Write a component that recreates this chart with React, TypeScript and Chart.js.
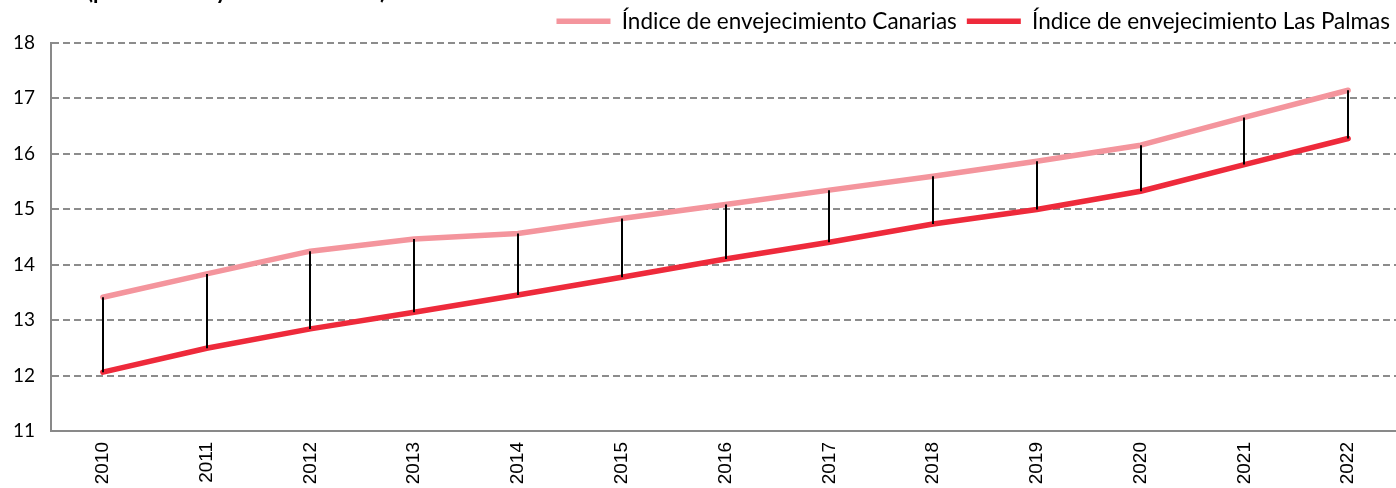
import { useEffect, useRef } from "react";
import { Chart, registerables } from "chart.js";

Chart.register(...registerables);

const years = ["2010", "2011", "2012", "2013", "2014", "2015", "2016", "2017", "2018", "2019", "2020", "2021", "2022"];
const canarias = [13.41, 13.83, 14.24, 14.46, 14.56, 14.83, 15.08, 15.34, 15.59, 15.86, 16.15, 16.65, 17.14];
const lasPalmas = [12.06, 12.49, 12.84, 13.14, 13.45, 13.77, 14.1, 14.4, 14.73, 14.99, 15.32, 15.8, 16.27];
const seriesNames = ["Índice de envejecimiento Canarias", "Índice de envejecimiento Las Palmas"];
const titleText = "(personas mayores de 65 años)";
const yMin = 11;
const yMax = 18;

const hiLoPlugin = {
  id: "hiLoLines",
  afterDatasetsDraw(chart: any) {
    const a = chart.getDatasetMeta(0).data;
    const b = chart.getDatasetMeta(1).data;
    const ctx = chart.ctx;
    ctx.save();
    ctx.strokeStyle = "#000000";
    ctx.lineWidth = 2;
    a.forEach((p: any, i: number) => {
      const q = b[i];
      if (!q) return;
      ctx.beginPath();
      ctx.moveTo(Math.round(p.x), p.y);
      ctx.lineTo(Math.round(q.x), q.y);
      ctx.stroke();
    });
    ctx.restore();
  },
};

export default function App() {
  const canvasRef = useRef<HTMLCanvasElement | null>(null);

  useEffect(() => {
    document.body.style.margin = "0";
    document.body.style.overflow = "hidden";
    const canvas = canvasRef.current;
    if (!canvas) return;
    const chart = new Chart(canvas, {
      type: "line",
      data: {
        labels: years,
        datasets: [
          {
            label: seriesNames[0],
            data: canarias,
            borderColor: "#F4959D",
            backgroundColor: "#F4959D",
            borderWidth: 5.5,
            borderCapStyle: "round",
            borderJoinStyle: "round",
            pointRadius: 0,
            tension: 0,
          },
          {
            label: seriesNames[1],
            data: lasPalmas,
            borderColor: "#EE2A3B",
            backgroundColor: "#EE2A3B",
            borderWidth: 5.5,
            borderCapStyle: "round",
            borderJoinStyle: "round",
            pointRadius: 0,
            tension: 0,
          },
        ],
      },
      options: {
        responsive: false,
        animation: false,
        layout: { padding: { left: 0, right: 0, top: 0, bottom: 0 } },
        plugins: {
          title: { display: false },
          tooltip: { enabled: false },
          legend: {
            display: true,
            position: "top",
            align: "end",
            labels: {
              usePointStyle: true,
              pointStyle: "line",
              pointStyleWidth: 54,
              color: "#000000",
              padding: 10,
              font: { family: "Lato", size: 22.5 },
            },
          },
        },
        scales: {
          x: {
            type: "category",
            offset: true,
            grid: { display: false, drawTicks: false },
            border: { display: true, color: "#898989", width: 2 },
            ticks: {
              color: "#000000",
              minRotation: 90,
              maxRotation: 90,
              padding: 11,
              autoSkip: false,
              font: { family: "Liberation Sans", size: 19 },
            },
            afterFit(scale: any) {
              scale.height = 57;
            },
          },
          y: {
            min: yMin,
            max: yMax,
            grid: { display: true, drawTicks: false, color: "#8C8C8C", lineWidth: 2 },
            border: { display: true, color: "#898989", width: 2, dash: [7, 4] },
            ticks: {
              stepSize: 1,
              color: "#000000",
              padding: 16,
              font: { family: "Lato", size: 19 },
            },
            afterFit(scale: any) {
              scale.width = 51;
            },
          },
        },
      },
      plugins: [hiLoPlugin],
    });
    return () => chart.destroy();
  }, []);

  return (
    <div style={{ position: "relative", width: 1396, height: 488, overflow: "hidden", background: "#ffffff" }}>
      <div
        style={{
          position: "absolute",
          left: 87,
          top: -20,
          fontFamily: "Lato",
          fontWeight: 700,
          fontSize: 22,
          lineHeight: "22px",
          color: "#000000",
          whiteSpace: "nowrap",
        }}
      >
        {titleText}
      </div>
      <canvas ref={canvasRef} width={1400} height={488} style={{ display: "block" }} />
    </div>
  );
}
